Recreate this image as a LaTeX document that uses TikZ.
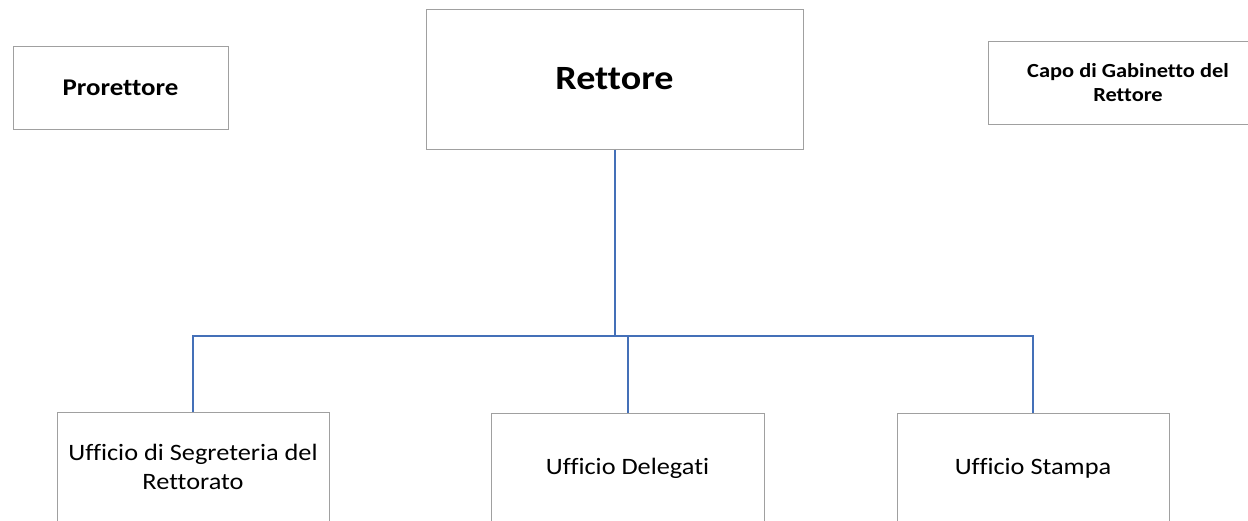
\documentclass[tikz,border=0pt]{standalone}
\usepackage{fontspec}
\setmainfont[FakeStretch=1.12,Ligatures=CommonOff]{Carlito}
\usepackage{tikz}
\usetikzlibrary{positioning}
\definecolor{linkblue}{HTML}{4470B8}
\definecolor{boxgray}{HTML}{A0A0A0}

\begin{document}
\begin{tikzpicture}[x=1pt,y=-1pt,
    box node/.style={rectangle,draw=boxgray,line width=1pt,fill=white,align=center,inner sep=0pt},
    head node/.style={box node,font=\bfseries\fontsize{24}{28}\selectfont},
    office node/.style={box node,minimum width=272pt,minimum height=110pt,font=\fontsize{23.5}{28.3}\selectfont},
    link/.style={-,draw=linkblue,line width=2pt}]
  \useasboundingbox (0,0) rectangle (1248,520);
  \clip (0,0) rectangle (1248,520);
  % top row
  \node[head node,minimum width=377pt,minimum height=140pt,font=\bfseries\fontsize{34}{38}\selectfont] (rettore) at (614.5,79) {Rettore};
  \node[head node,minimum width=215pt,minimum height=83pt] (prorettore) at (120.5,87.5) {Prorettore};
  \node[head node,minimum width=280pt,minimum height=83pt,font=\bfseries\fontsize{20}{23.7}\selectfont] (capo) at (1128,82.5) {Capo di Gabinetto del\\Rettore};
  % offices
  \node[office node] (segreteria) at (193,467) {Ufficio di Segreteria del\\Rettorato};
  \node[office node,minimum width=273pt] (delegati) at (627.5,468) {Ufficio Delegati};
  \node[office node] (stampa) at (1033,468) {Ufficio Stampa};
  \coordinate (bus) at (614.5,335.5);
  \draw[link] (rettore.south) -- (bus) -| (segreteria.north);
  \draw[link] (bus) -| (stampa.north);
  \draw[link] (delegati.north) -- (delegati.north |- bus);
\end{tikzpicture}
\end{document}
